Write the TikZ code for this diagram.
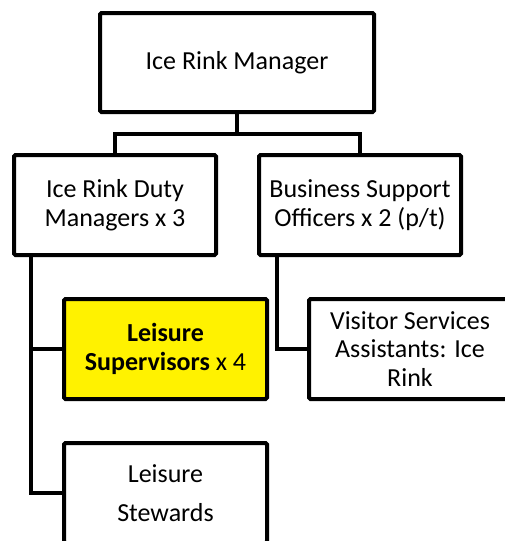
\documentclass[tikz,border=0pt]{standalone}
\usepackage{fontspec}
\setmainfont{Carlito}
\begin{document}
\begin{tikzpicture}[x=1pt,y=-1pt,
  box/.style={draw=black,line width=4pt,rounded corners=1.5pt,fill=white,
    minimum width=202pt,minimum height=100pt,inner sep=0pt,align=center,
    font=\fontsize{26}{28.5}\selectfont},
  conn/.style={draw=black,line width=4pt}]
\useasboundingbox (0,0) rectangle (505,541);
\clip (0,0) rectangle (505,541);
\node[box,minimum width=274pt,minimum height=99pt] (top) at (237,62.5) {Ice Rink Manager};
\node[box] (dm) at (115,205) {Ice Rink Duty\\Managers x 3};
\node[box] (bs) at (360,205) {Business Support\\Officers x 2 (p/t)};
\node[box,fill=yellow,minimum width=203pt] (sup) at (165.5,349) {\textbf{Leisure}\\\textbf{Supervisors} x 4};
\node[box] (vis) at (410,349) {Visitor Services\\Assistants: Ice\\Rink};
\node[box,minimum width=203pt] (st) at (165.5,493) {Leisure\\[10pt]Stewards};
\coordinate (bus) at ([yshift=-20pt]top.south);
\coordinate (dmx) at ([xshift=19pt]dm.south west);
\coordinate (bsx) at ([xshift=20pt]bs.south west);
\draw[conn] (top.south) -- (bus) -| (dm.north);
\draw[conn] (bus) -| (bs.north);
\draw[conn] (dmx) |- (sup.west);
\draw[conn] (dmx) |- (st.west);
\draw[conn] (bsx) |- (vis.west);
\end{tikzpicture}
\end{document}
